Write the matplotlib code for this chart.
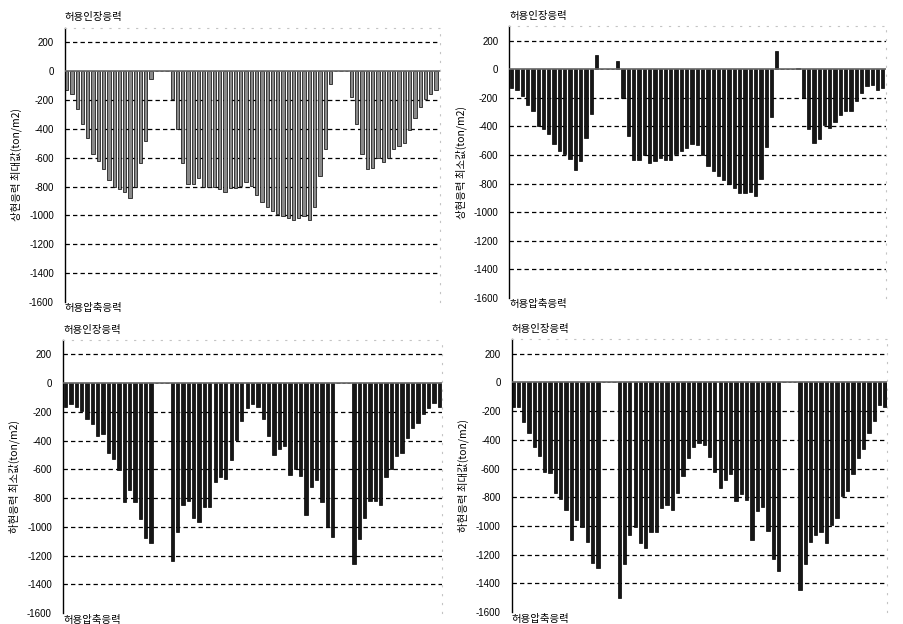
import numpy as np
import matplotlib
matplotlib.use('Agg')
import matplotlib.pyplot as plt

plt.rcParams['font.family'] = ['Liberation Sans', 'Noto Sans CJK KR']
plt.rcParams['axes.unicode_minus'] = False

# member stress per node (ton/m2)
top_max = [-134, -162, -261, -369, -461, -572, -623, -680, -754, -800, -814, -841, -883, -802, -637, -484, -58,
           0, 0, 0,
           -191, -404, -634, -784, -780, -743, -800, -800, -800, -814, -837, -807, -807, -796, -770, -794,
           -860, -904, -939, -973, -987, -1003, -1020, -1029, -1015, -1006, -1029, -939, -727, -540, -92,
           0, 0, 0,
           -180, -365, -572, -680, -674, -600, -630, -600, -542, -519, -496, -411, -323, -249, -196, -161, -134]

top_min = [-132, -144, -185, -248, -294, -394, -415, -456, -521, -572, -591, -630, -704, -642, -480, -313, 97,
           0, 0, 0,
           55, -199, -468, -637, -637, -602, -653, -642, -619, -637, -637, -595, -572, -549, -526, -533,
           -602, -676, -711, -746, -774, -804, -832, -862, -862, -855, -885, -769, -544, -334, 125,
           0, 0, 0,
           8, -199, -415, -514, -491, -392, -410, -371, -318, -294, -290, -225, -167, -120, -109, -148, -132]

bot_min = [-169, -146, -169, -197, -251, -285, -371, -355, -487, -527, -603, -824, -742, -824, -944, -1079, -1109,
           0, 0, 0,
           -1234, -1032, -847, -819, -940, -963, -858, -858, -689, -650, -666, -534, -394, -262, -174, -146,
           -169, -251, -371, -503, -457, -434, -638, -596, -643, -917, -719, -673, -828, -998, -1072,
           0, 0, 0,
           -1260, -1083, -940, -819, -819, -847, -650, -596, -510, -487, -383, -313, -274, -213, -174, -139, -169]

bot_max = [-169, -169, -274, -355, -448, -513, -622, -633, -768, -814, -889, -1097, -958, -1009, -1109, -1255, -1290,
           0, 0, 0,
           -1499, -1267, -1060, -1005, -1121, -1155, -1039, -1044, -877, -854, -889, -773, -652, -524, -448, -425,
           -436, -517, -626, -738, -680, -640, -824, -780, -819, -1097, -896, -865, -1035, -1232, -1311,
           0, 0, 0,
           -1445, -1264, -1109, -1063, -1039, -1116, -993, -942, -791, -756, -640, -529, -464, -355, -267, -158, -174]

ylabels = ['상현응력 최대값(ton/m2)', '상현응력 최소값(ton/m2)',
           '하현응력 최소값(ton/m2)', '하현응력 최대값(ton/m2)']
yticks = [200, 0, -200, -400, -600, -800, -1000, -1200, -1400, -1600]

fig = plt.figure(figsize=(9.04, 6.24), dpi=100)

panels = [
    (top_max, [0.0719, 0.516, 0.4148, 0.4396], (-0.32, 70.76), '#8a8a8a'),
    (top_min, [0.5636, 0.5224, 0.4165, 0.4353], (-0.42, 70.6), '#161616'),
    (bot_min, [0.0697, 0.0173, 0.4192, 0.4378], (-0.51, 70.5), '#161616'),
    (bot_max, [0.5660, 0.0189, 0.4152, 0.4375], (-0.24, 70.4), '#161616'),
]

for i, (vals, rect, xl, col) in enumerate(panels):
    ax = fig.add_axes(rect)
    x = np.arange(len(vals))
    for g in [200, -200, -400, -600, -800, -1000, -1200, -1400]:
        ax.axhline(g, color='black', lw=0.9, ls=(0, (3.5, 2.5)), zorder=1)
    ax.bar(x, vals, width=0.62, color=col, edgecolor='black', linewidth=0.5, zorder=2)
    ax.axhline(0, color='#666666', lw=1.2, zorder=3)
    ax.set_xlim(*xl)
    ax.set_ylim(-1600, 300)
    ax.set_yticks(yticks)
    ax.set_yticklabels([str(t) for t in yticks], fontsize=7)
    ax.tick_params(axis='y', length=0, pad=8)
    ax.set_xticks([])
    ax.spines['left'].set_color('black')
    ax.spines['left'].set_linewidth(1.0)
    ax.spines['bottom'].set_visible(False)
    for s in ['top', 'right']:
        ax.spines[s].set_color('#c4c4c4')
        ax.spines[s].set_linestyle((0, (1, 7)))
        ax.spines[s].set_linewidth(0.8)
    ax.set_ylabel(ylabels[i], fontsize=7.5, labelpad=5, family=['Noto Sans CJK KR', 'DejaVu Sans'])
    ax.text(0.0, 1.02, '허용인장응력', transform=ax.transAxes, fontsize=7.5,
            ha='left', va='bottom', family=['Noto Sans CJK KR', 'DejaVu Sans'])
    ax.text(0.0, -0.005, '허용압축응력', transform=ax.transAxes, fontsize=7.5,
            ha='left', va='top', family=['Noto Sans CJK KR', 'DejaVu Sans'])

fig.savefig('out.png', dpi=100)
